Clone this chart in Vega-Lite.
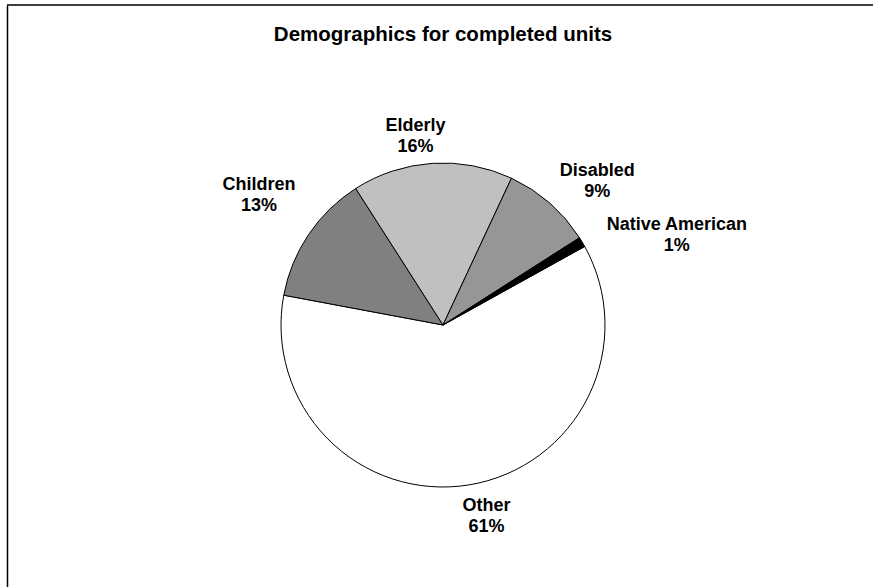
{
  "$schema": "https://vega.github.io/schema/vega-lite/v6.json",
  "autosize": "none",
  "padding": {"left": 7, "top": 5, "right": 0, "bottom": 0},
  "width": 872,
  "height": 640,
  "background": "white",
  "view": {"stroke": "black", "strokeWidth": 1.5, "strokeDash": [872, 5000]},
  "title": {"text": "Demographics for completed units", "font": "Liberation Sans", "fontSize": 20.5, "fontWeight": "bold", "color": "black", "offset": -40, "anchor": "middle"},
  "data": {"values": [
    {"category": "Other", "value": 61, "order": 1, "label": "Other\n61%"},
    {"category": "Children", "value": 13, "order": 2, "label": "Children\n13%"},
    {"category": "Elderly", "value": 16, "order": 3, "label": "Elderly\n16%"},
    {"category": "Disabled", "value": 9, "order": 4, "label": "Disabled\n9%"},
    {"category": "Native American", "value": 1, "order": 5, "label": "Native American\n1%"}
  ]},
  "layer": [
    {
      "mark": {"type": "text", "opacity": 0},
      "encoding": {
        "y": {"field": "value", "type": "quantitative", "axis": {"title": null, "labels": false, "ticks": false, "grid": false, "domain": true, "domainColor": "black", "domainWidth": 1.5}},
        "text": {"value": ""}
      }
    },
    {
      "mark": {"type": "arc", "outerRadius": 162, "stroke": "black", "strokeWidth": 1},
      "encoding": {
        "theta": {"field": "value", "type": "quantitative", "stack": true, "scale": {"range": [1.0647, 7.3479]}},
        "order": {"field": "order", "type": "quantitative"},
        "color": {"field": "category", "type": "nominal", "legend": null,
          "scale": {"domain": ["Other", "Children", "Elderly", "Disabled", "Native American"], "range": ["#ffffff", "#808080", "#c0c0c0", "#969696", "#000000"]}}
      }
    },
    {
      "mark": {"type": "text", "radius": 195, "thetaOffset": -0.065, "dy": -9, "font": "Liberation Sans", "fontWeight": "bold", "fontSize": 18, "lineBreak": "\n", "lineHeight": 21, "align": "center", "baseline": "middle", "color": "black"},
      "encoding": {
        "theta": {"field": "value", "type": "quantitative", "stack": true},
        "order": {"field": "order", "type": "quantitative"},
        "text": {"condition": {"test": "datum.category === 'Other'", "field": "label"}, "value": ""}}
    },
    {
      "mark": {"type": "text", "radius": 226, "thetaOffset": 0.026, "dy": -9, "font": "Liberation Sans", "fontWeight": "bold", "fontSize": 18, "lineBreak": "\n", "lineHeight": 21, "align": "center", "baseline": "middle", "color": "black"},
      "encoding": {
        "theta": {"field": "value", "type": "quantitative", "stack": true},
        "order": {"field": "order", "type": "quantitative"},
        "text": {"condition": {"test": "datum.category === 'Children'", "field": "label"}, "value": ""}}
    },
    {
      "mark": {"type": "text", "radius": 192, "thetaOffset": -0.077, "dy": -9, "font": "Liberation Sans", "fontWeight": "bold", "fontSize": 18, "lineBreak": "\n", "lineHeight": 21, "align": "center", "baseline": "middle", "color": "black"},
      "encoding": {
        "theta": {"field": "value", "type": "quantitative", "stack": true},
        "order": {"field": "order", "type": "quantitative"},
        "text": {"condition": {"test": "datum.category === 'Elderly'", "field": "label"}, "value": ""}}
    },
    {
      "mark": {"type": "text", "radius": 211, "thetaOffset": 0.1, "dy": -10, "font": "Liberation Sans", "fontWeight": "bold", "fontSize": 18, "lineBreak": "\n", "lineHeight": 21, "align": "center", "baseline": "middle", "color": "black"},
      "encoding": {
        "theta": {"field": "value", "type": "quantitative", "stack": true},
        "order": {"field": "order", "type": "quantitative"},
        "text": {"condition": {"test": "datum.category === 'Disabled'", "field": "label"}, "value": ""}}
    },
    {
      "mark": {"type": "text", "radius": 250, "thetaOffset": 0.176, "dy": -12, "font": "Liberation Sans", "fontWeight": "bold", "fontSize": 18, "lineBreak": "\n", "lineHeight": 21, "align": "center", "baseline": "middle", "color": "black"},
      "encoding": {
        "theta": {"field": "value", "type": "quantitative", "stack": true},
        "order": {"field": "order", "type": "quantitative"},
        "text": {"condition": {"test": "datum.category === 'Native American'", "field": "label"}, "value": ""}}
    }
  ]
}
